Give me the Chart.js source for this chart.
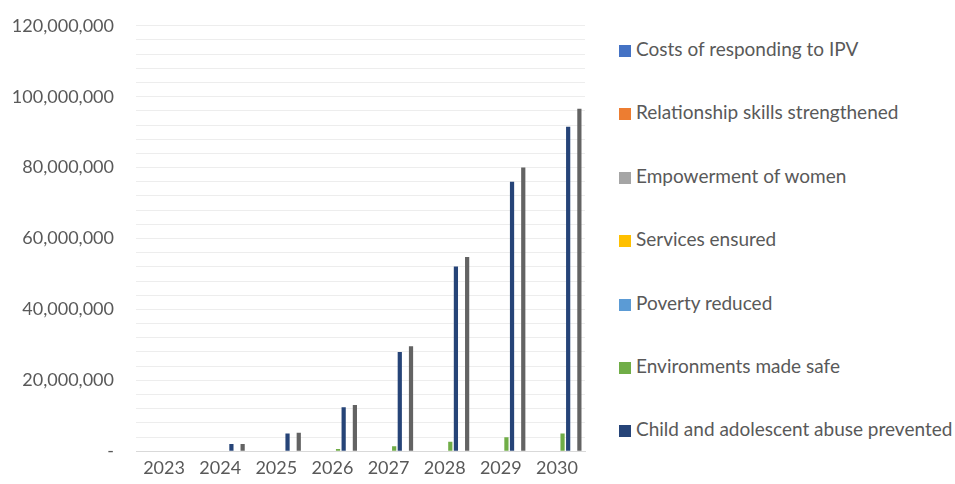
<!DOCTYPE html>
<html>
<head>
<meta charset="utf-8">
<script src="https://cdn.jsdelivr.net/npm/chart.js@4"></script>
<style>
    html, body { margin: 0; padding: 0; background: #fff; overflow: hidden; }
    #wrap { width: 955px; height: 484px; position: relative; overflow: hidden; }
    #plot { position: absolute; left: 0; top: -7px; width: 600px; height: 491px; }
    #legend { position: absolute; left: 619px; top: 0; margin: 0; padding: 0; list-style: none;
              font-family: Lato, 'Open Sans', sans-serif; font-size: 19px; color: #595959; }
    #legend li { position: absolute; left: 0; white-space: nowrap; height: 22px; line-height: 22px; }
    #legend .box { display: inline-block; width: 12px; height: 12px; margin-right: 5px; vertical-align: -1px; }
</style>
</head>
<body>
<div id="wrap">
    <div id="plot"><canvas id="impact-chart"></canvas></div>
    <ul id="legend"></ul>
</div>
<script>
const years = ["2023", "2024", "2025", "2026", "2027", "2028", "2029", "2030"];

// series shown in the legend
const costsIPV       = [0, 0, 0, 0, 0, 0, 0, 0];
const relationship   = [0, 0, 0, 0, 0, 0, 0, 0];
const empowerment    = [0, 0, 0, 0, 0, 0, 0, 0];
const services       = [0, 0, 0, 0, 0, 0, 0, 0];
const poverty        = [0, 0, 0, 0, 0, 0, 0, 0];
const environments   = [0, 0, 0, 650000, 1400000, 2700000, 3950000, 5000000];
const childAbuse     = [0, 2000000, 5000000, 12400000, 28000000, 52100000, 76000000, 91500000];
// series without a legend entry
const hiddenSeries   = [0, 0, 0, 0, 0, 0, 0, 0];
const totalSeries    = [0, 2000000, 5200000, 13000000, 29600000, 54800000, 80000000, 96600000];

const yTickStep = 4000000;
const yLabelStep = 20000000;
const yMax = 120000000;

document.addEventListener('DOMContentLoaded', () => {
    const ctx = document.getElementById('impact-chart').getContext('2d');

    const font = "Lato, 'Open Sans', sans-serif";
    const grey = '#595959';

    const series = [
        { label: 'Costs of responding to IPV', data: costsIPV, color: '#4472C4' },
        { label: 'Relationship skills strengthened', data: relationship, color: '#ED7D31' },
        { label: 'Empowerment of women', data: empowerment, color: '#A5A5A5' },
        { label: 'Services ensured', data: services, color: '#FFC000' },
        { label: 'Poverty reduced', data: poverty, color: '#5B9BD5' },
        { label: 'Environments made safe', data: environments, color: '#70AD47' },
        { label: 'Child and adolescent abuse prevented', data: childAbuse, color: '#264478' },
        { label: 'hidden', data: hiddenSeries, color: '#9E480E', noLegend: true },
        { label: 'total', data: totalSeries, color: '#636363', noLegend: true }
    ];

    const chart = new Chart(ctx, {
        type: 'bar',
        data: {
            labels: years,
            datasets: series.map(s => ({
                label: s.label,
                data: s.data,
                backgroundColor: s.color,
                borderWidth: 0,
                categoryPercentage: 0.9,
                barPercentage: 0.75
            }))
        },
        options: {
            responsive: true,
            maintainAspectRatio: false,
            animation: false,
            layout: {
                padding: { left: 12, right: 15, top: 0, bottom: 6 }
            },
            scales: {
                x: {
                    grid: { display: false },
                    border: { color: '#D9D9D9', width: 1 },
                    ticks: { color: grey, font: { family: font, size: 18 }, padding: -2 }
                },
                y: {
                    min: 0,
                    max: yMax,
                    border: { display: false },
                    grid: { color: '#EDEDED', lineWidth: 1, drawTicks: false },
                    afterFit: scale => { scale.width = 124; },
                    ticks: {
                        stepSize: yTickStep,
                        autoSkip: false,
                        color: grey,
                        padding: 22,
                        font: { family: font, size: 18 },
                        callback: function(value) {
                            if (value === 0) return '-';
                            if (value % yLabelStep !== 0) return '';
                            return value.toLocaleString('en-US');
                        }
                    }
                }
            },
            plugins: {
                legend: { display: false },
                tooltip: { enabled: false }
            }
        }
    });

    // legend built from the chart's own datasets
    const legend = document.getElementById('legend');
    chart.data.datasets.forEach((ds, i) => {
        if (series[i].noLegend) return;
        const li = document.createElement('li');
        li.style.top = (38 + i * 63.4) + 'px';
        li.innerHTML = '<span class="box" style="background:' + ds.backgroundColor + '"></span>' + ds.label;
        legend.appendChild(li);
    });
});
</script>
</body>
</html>
